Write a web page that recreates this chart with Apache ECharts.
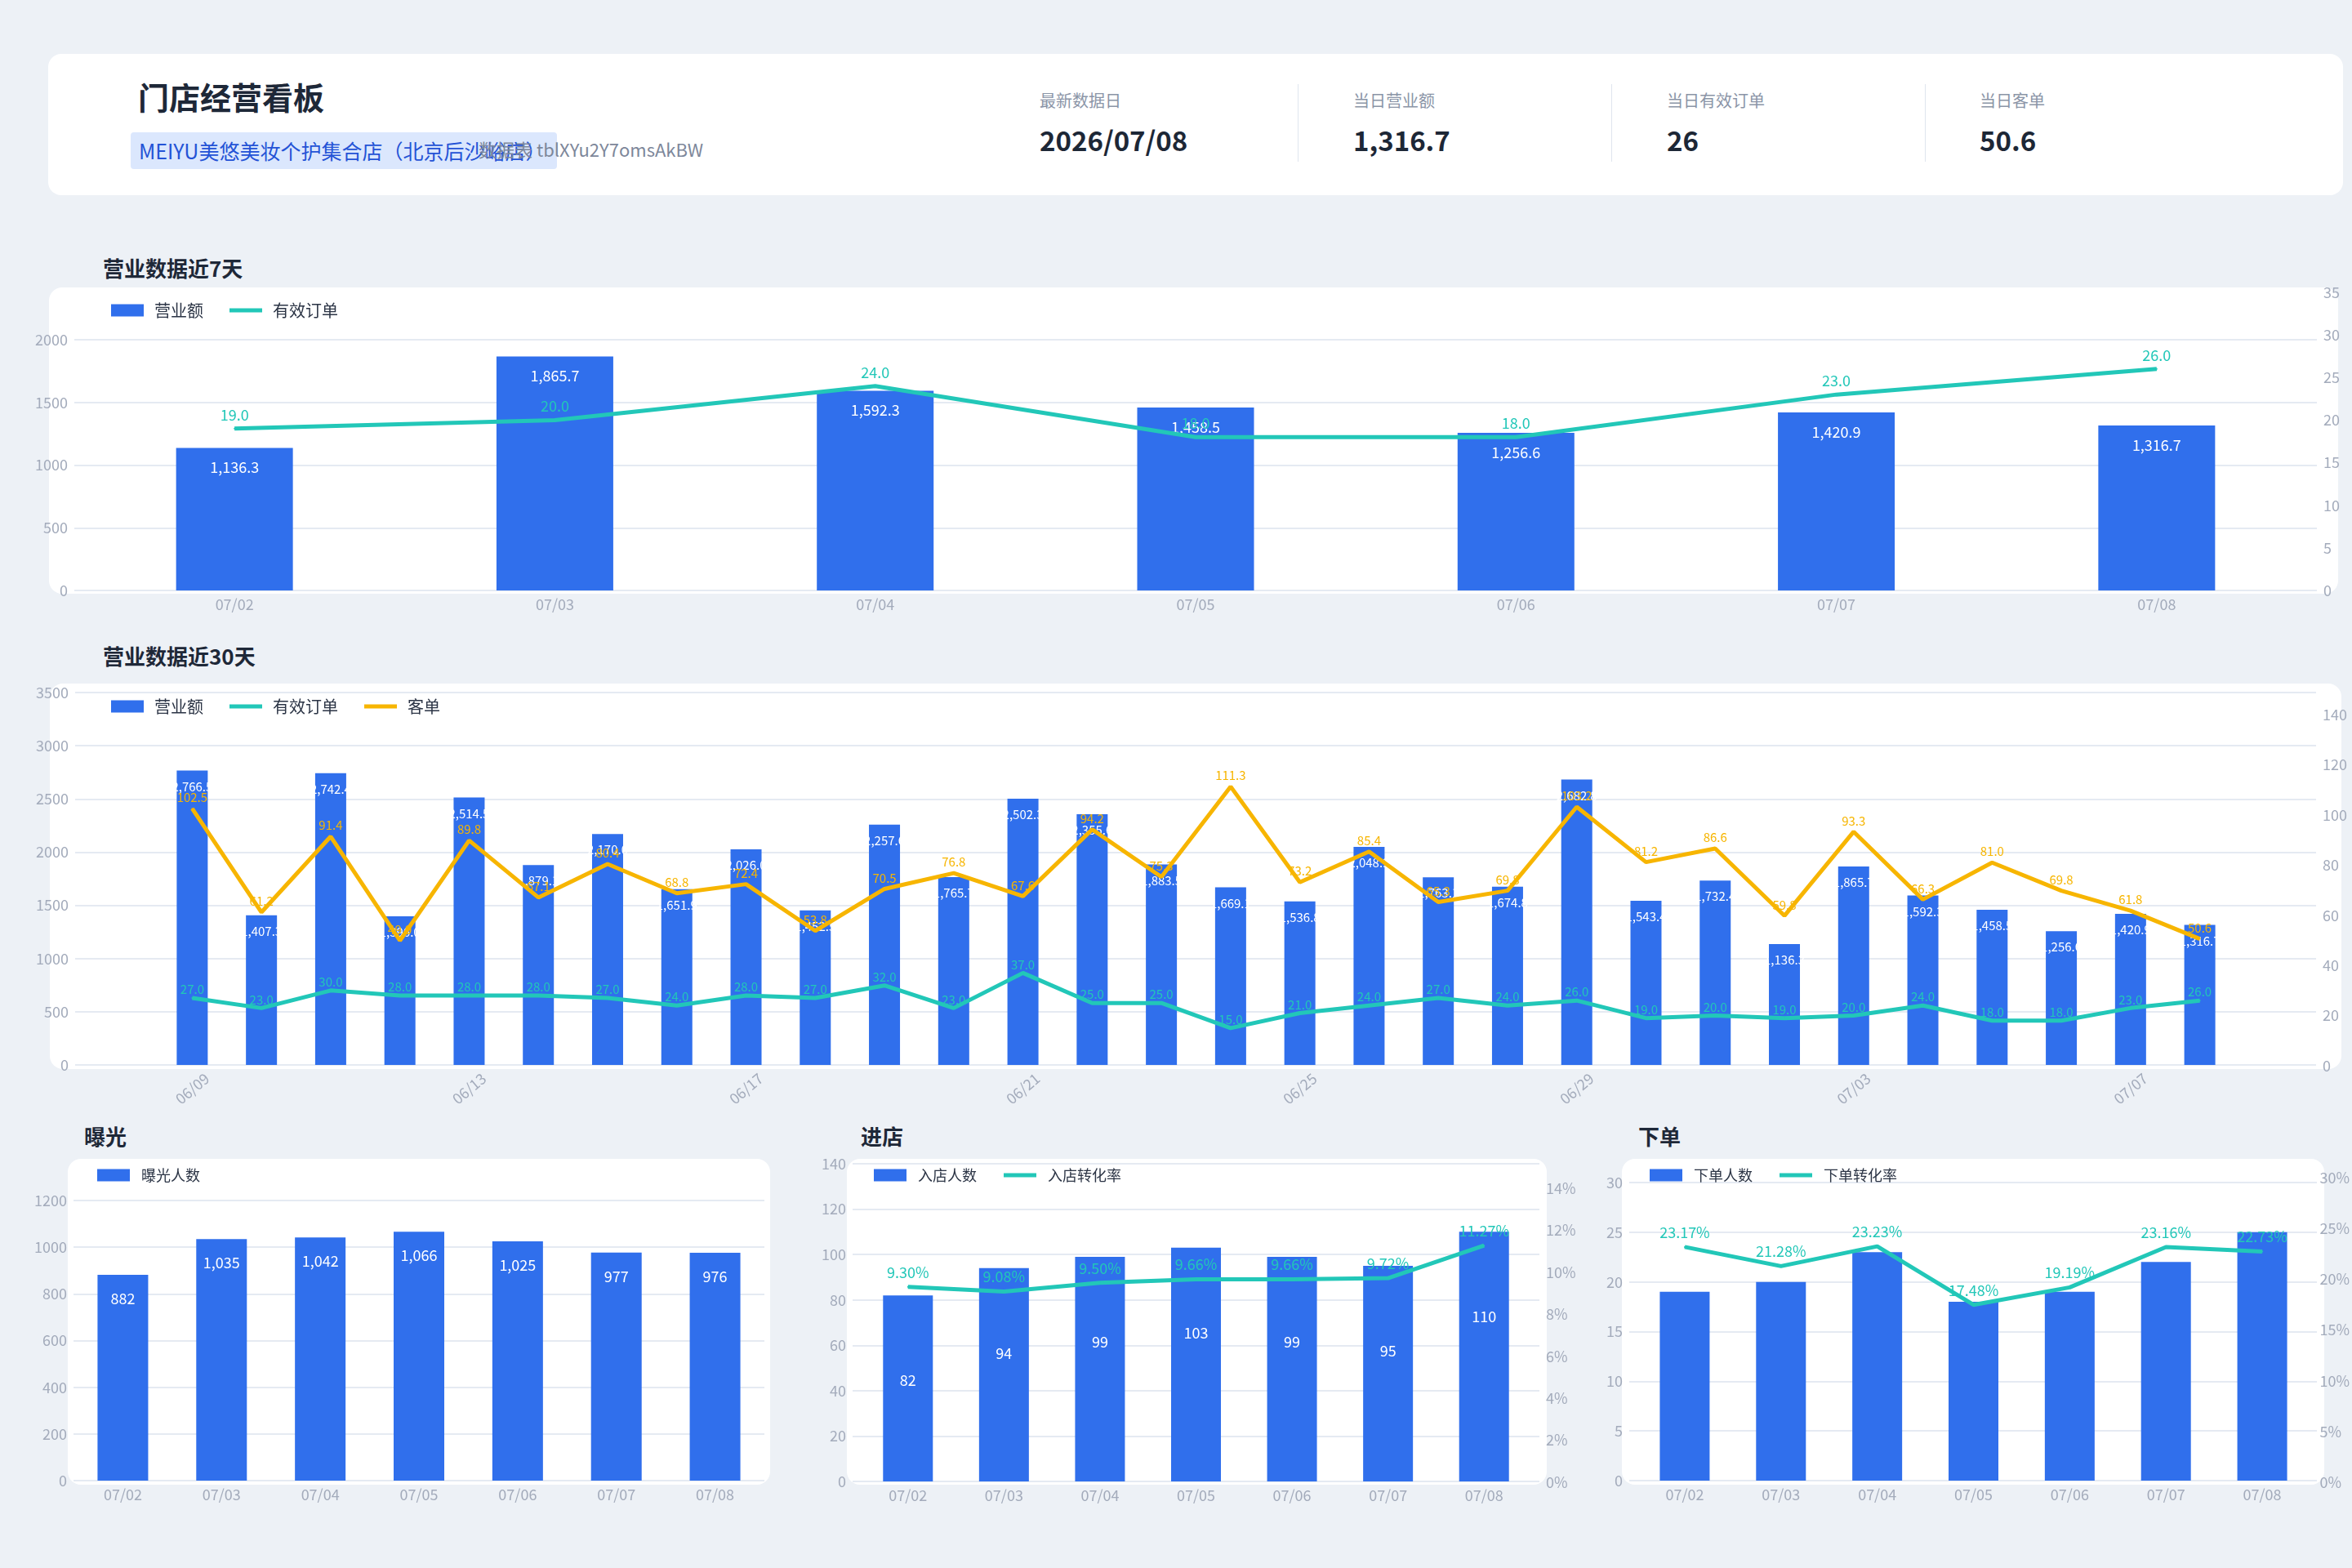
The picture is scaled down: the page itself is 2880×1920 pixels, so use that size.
<!DOCTYPE html>
<html>
<head>
<meta charset="utf-8">
<script src="https://cdn.jsdelivr.net/npm/echarts@6/dist/echarts.min.js"></script>
<style>
  html, body { margin: 0; padding: 0; background: #edf1f6; }
  body { width: 2880px; height: 1920px; position: relative; overflow: hidden;
         font-family: "Noto Sans CJK SC", "Noto Sans", sans-serif; }
  .card { position: absolute; background: #fff; border-radius: 16px; }
  .abs { position: absolute; white-space: nowrap; }
  .title { font-size: 38px; font-weight: 700; color: #1e2838; line-height: 46px; }
  .section { font-size: 26px; font-weight: 700; color: #1e2838; line-height: 32px; }
  .tag { background: #dbe7fd; border-radius: 4px; color: #2453d6; font-size: 25px;
         line-height: 45px; height: 45px; padding-left: 10px; box-sizing: border-box; }
  .tid { color: #7d879a; font-size: 22px; line-height: 45px; }
  .klabel { font-size: 20px; color: #8b95a7; line-height: 24px; }
  .kvalue { font-size: 33px; font-weight: 700; color: #1d2736; line-height: 40px; }
  .divider { position: absolute; width: 1px; background: #dfe5ee; }
  #chart { position: absolute; left: 0; top: 0; width: 2880px; height: 1920px; }
</style>
</head>
<body>
<div class="card" style="left:59px;top:66px;width:2810px;height:173px;"></div>
<div class="abs title" style="left:169px;top:95px;">门店经营看板</div>
<div class="abs tag" style="left:160px;top:162px;width:522px;">MEIYU美悠美妆个护集合店（北京后沙峪店）</div>
<div class="abs tid" style="left:586px;top:160px;">数据表 tblXYu2Y7omsAkBW</div>

<div class="abs klabel" style="left:1273px;top:111px;">最新数据日</div>
<div class="abs kvalue" style="left:1273px;top:151px;">2026/07/08</div>
<div class="divider" style="left:1589px;top:103px;height:95px;"></div>
<div class="abs klabel" style="left:1657px;top:111px;">当日营业额</div>
<div class="abs kvalue" style="left:1657px;top:151px;">1,316.7</div>
<div class="divider" style="left:1973px;top:103px;height:95px;"></div>
<div class="abs klabel" style="left:2041px;top:111px;">当日有效订单</div>
<div class="abs kvalue" style="left:2041px;top:151px;">26</div>
<div class="divider" style="left:2357px;top:103px;height:95px;"></div>
<div class="abs klabel" style="left:2424px;top:111px;">当日客单</div>
<div class="abs kvalue" style="left:2424px;top:151px;">50.6</div>

<div class="abs section" style="left:126px;top:312px;">营业数据近7天</div>
<div class="card" style="left:60px;top:352px;width:2803px;height:375px;"></div>

<div class="abs section" style="left:126px;top:787px;">营业数据近30天</div>
<div class="card" style="left:61px;top:837px;width:2806px;height:472px;"></div>

<div class="abs section" style="left:103px;top:1375px;">曝光</div>
<div class="card" style="left:83px;top:1419px;width:860px;height:399px;"></div>
<div class="abs section" style="left:1054px;top:1375px;">进店</div>
<div class="card" style="left:1037px;top:1419px;width:857px;height:399px;"></div>
<div class="abs section" style="left:2006px;top:1375px;">下单</div>
<div class="card" style="left:1986px;top:1419px;width:860px;height:399px;"></div>

<div id="chart"></div>

<script>
// 近7天
const days7 = ['07/02', '07/03', '07/04', '07/05', '07/06', '07/07', '07/08'];
const revenue7 = [1136.3, 1865.7, 1592.3, 1458.5, 1256.6, 1420.9, 1316.7];
const orders7 = [19, 20, 24, 18, 18, 23, 26];

// 近30天
const days30 = ['06/09', '06/10', '06/11', '06/12', '06/13', '06/14', '06/15', '06/16', '06/17', '06/18',
  '06/19', '06/20', '06/21', '06/22', '06/23', '06/24', '06/25', '06/26', '06/27', '06/28',
  '06/29', '06/30', '07/01', '07/02', '07/03', '07/04', '07/05', '07/06', '07/07', '07/08'];
const revenue30 = [2766.5, 1407.3, 2742.4, 1396.0, 2514.5, 1879.1, 2170.0, 1651.9, 2026.0, 1452.5,
  2257.6, 1765.7, 2502.3, 2355.6, 1883.5, 1669.1, 1536.8, 2048.9, 1763.1, 1674.8,
  2682.8, 1543.4, 1732.4, 1136.3, 1865.7, 1592.3, 1458.5, 1256.6, 1420.9, 1316.7];
const orders30 = [27, 23, 30, 28, 28, 28, 27, 24, 28, 27,
  32, 23, 37, 25, 25, 15, 21, 24, 27, 24,
  26, 19, 20, 19, 20, 24, 18, 18, 23, 26];
const avgOrder30 = [102.5, 61.2, 91.4, 49.9, 89.8, 67.1, 80.4, 68.8, 72.4, 53.8,
  70.5, 76.8, 67.6, 94.2, 75.3, 111.3, 73.2, 85.4, 65.3, 69.8,
  103.2, 81.2, 86.6, 59.8, 93.3, 66.3, 81.0, 69.8, 61.8, 50.6];

// 漏斗
const exposure = [882, 1035, 1042, 1066, 1025, 977, 976];
const visitors = [82, 94, 99, 103, 99, 95, 110];
const visitRate = [9.30, 9.08, 9.50, 9.66, 9.66, 9.72, 11.27];
const buyers = [19, 20, 23, 18, 19, 22, 25];
const buyRate = [23.17, 21.28, 23.23, 17.48, 19.19, 23.16, 22.73];

const FONT = '"Noto Sans CJK SC", "Noto Sans", sans-serif';
const BLUE = '#306FEC';
const TEAL = '#22C7B8';
const ORANGE = '#F7B500';
const AXIS_TEXT = '#a3abbb';
const GRID_LINE = '#e5eaf2';
const LINE_ICON = 'path://M0,0H42V5H0Z';

const fmt = (v, d) => {
  const parts = v.toFixed(d).split('.');
  return parts[0].replace(/\B(?=(\d{3})+(?!\d))/g, ',') + (parts[1] ? '.' + parts[1] : '');
};
const plain = (v) => String(v);
const pct = (v) => v + '%';

const option = { animation: false, grid: [], xAxis: [], yAxis: [], series: [], legend: [] };

// one grid = one x axis + one y axis, so axis index === grid index
function addGrid(l, r, t, b, cats, xOpt, yOpt) {
  const gi = option.grid.length;
  option.grid.push({ left: l, top: t, width: r - l, height: b - t });
  option.xAxis.push(Object.assign({ type: 'category', gridIndex: gi, data: cats, show: false }, xOpt || {}));
  option.yAxis.push(Object.assign({ type: 'value', gridIndex: gi, show: false }, yOpt || {}));
  return gi;
}

const valueAxis = (side, max, interval, fmtr, split) => ({
  show: true, position: side, min: 0, max: max, interval: interval,
  axisLine: { show: false }, axisTick: { show: false },
  splitLine: { show: split, lineStyle: { color: GRID_LINE, width: 2 } },
  axisLabel: { color: AXIS_TEXT, fontSize: 18, fontFamily: FONT, margin: 8, formatter: fmtr }
});
const hiddenValue = (max) => ({ show: false, min: 0, max: max });
const catAxis = (extra) => ({
  show: true, axisLine: { show: false }, axisTick: { show: false },
  axisLabel: Object.assign({ color: AXIS_TEXT, fontSize: 18, fontFamily: FONT, margin: 8, interval: 0 }, extra || {})
});

function bar(gi, name, data, width, label) {
  option.series.push({
    type: 'bar', name: name, xAxisIndex: gi, yAxisIndex: gi, data: data, barWidth: width,
    itemStyle: { color: BLUE },
    label: label ? Object.assign({ show: true, position: 'insideTop', color: '#fff', fontFamily: FONT }, label) : { show: false }
  });
}
function line(gi, name, data, color, label) {
  option.series.push({
    type: 'line', name: name, xAxisIndex: gi, yAxisIndex: gi, data: data, z: 3,
    symbol: 'circle', symbolSize: 2, showSymbol: true,
    lineStyle: { color: color, width: 5 }, itemStyle: { color: color },
    label: Object.assign({ show: true, position: 'top', color: color, fontFamily: FONT }, label)
  });
}
function legend(left, top, fontSize, gap, pad, items) {
  option.legend.push({
    left: left, top: top, itemWidth: 40, itemHeight: 15, itemGap: gap,
    textStyle: { color: '#2b3445', fontSize: fontSize, fontFamily: FONT, padding: [0, 0, 0, pad] },
    data: items
  });
}

// ---- 营业数据近7天
const g7L = addGrid(91, 2837, 416, 723, days7, catAxis(), valueAxis('left', 2000, 500, plain, true));
const g7R = addGrid(91, 2837, 358, 723, days7, {}, valueAxis('right', 35, 5, plain, false));
bar(g7L, '营业额', revenue7, 143, { fontSize: 18, distance: 15, formatter: (p) => fmt(p.value, 1) });
line(g7R, '有效订单', orders7, TEAL, { fontSize: 18, distance: 7, formatter: (p) => p.value.toFixed(1) });
legend(131, 365, 20, 32, 8, [{ name: '营业额', icon: 'rect' }, { name: '有效订单', icon: LINE_ICON }]);

// ---- 营业数据近30天
addGrid(92, 2836, 848, 1304, days30, {}, valueAxis('left', 3500, 500, plain, true));
addGrid(92, 2836, 875, 1305, days30, {}, valueAxis('right', 140, 20, plain, false));
const g30L = addGrid(193, 2736, 848, 1304, days30,
  catAxis({ interval: 3, rotate: 40, align: 'center', verticalAlign: 'middle', margin: 29 }), hiddenValue(3500));
const g30R = addGrid(193, 2736, 875, 1305, days30, {}, hiddenValue(140));
bar(g30L, '营业额', revenue30, 38, { fontSize: 15, distance: 12, formatter: (p) => fmt(p.value, 1) });
line(g30R, '有效订单', orders30, TEAL, { fontSize: 15, distance: 2, formatter: (p) => p.value.toFixed(1) });
line(g30R, '客单', avgOrder30, ORANGE, { fontSize: 15, distance: 5, formatter: (p) => p.value.toFixed(1) });
legend(131, 850, 20, 32, 8, [{ name: '营业额', icon: 'rect' }, { name: '有效订单', icon: LINE_ICON },
  { name: '客单', icon: LINE_ICON }]);

// ---- 曝光
const gExp = addGrid(90, 936, 1470, 1813, days7, catAxis(), valueAxis('left', 1200, 200, plain, true));
bar(gExp, '曝光人数', exposure, 62, { fontSize: 18, distance: 20, formatter: (p) => fmt(p.value, 0) });
legend(114, 1425, 18, 33, 9, [{ name: '曝光人数', icon: 'rect' }]);

// ---- 进店
addGrid(1044, 1885, 1425, 1814, days7, {}, valueAxis('left', 140, 20, plain, true));
addGrid(1044, 1885, 1455, 1815, days7, {}, valueAxis('right', 14, 2, pct, false));
const gInL = addGrid(1053, 1876, 1425, 1814, days7, catAxis(), hiddenValue(140));
const gInR = addGrid(1053, 1876, 1455, 1815, days7, {}, hiddenValue(14));
bar(gInL, '入店人数', visitors, 61, { fontSize: 18, distance: 95, formatter: (p) => fmt(p.value, 0) });
line(gInR, '入店转化率', visitRate, TEAL, { fontSize: 18, distance: 8, formatter: (p) => p.value.toFixed(2) + '%' });
legend(1065, 1425, 18, 33, 9, [{ name: '入店人数', icon: 'rect' }, { name: '入店转化率', icon: LINE_ICON }]);

// ---- 下单
addGrid(1995, 2837, 1448, 1813, days7, {}, valueAxis('left', 30, 5, plain, true));
addGrid(1995, 2837, 1442, 1815, days7, {}, valueAxis('right', 30, 5, pct, false));
const gBuyL = addGrid(2004, 2829, 1448, 1813, days7, catAxis(), hiddenValue(30));
const gBuyR = addGrid(2004, 2829, 1442, 1815, days7, {}, hiddenValue(30));
bar(gBuyL, '下单人数', buyers, 61, null);
line(gBuyR, '下单转化率', buyRate, TEAL, { fontSize: 18, distance: 8, formatter: (p) => p.value.toFixed(2) + '%' });
legend(2015, 1425, 18, 33, 9, [{ name: '下单人数', icon: 'rect' }, { name: '下单转化率', icon: LINE_ICON }]);

const chart = echarts.init(document.getElementById('chart'), null, { renderer: 'canvas' });
chart.setOption(option);
</script>
</body>
</html>
